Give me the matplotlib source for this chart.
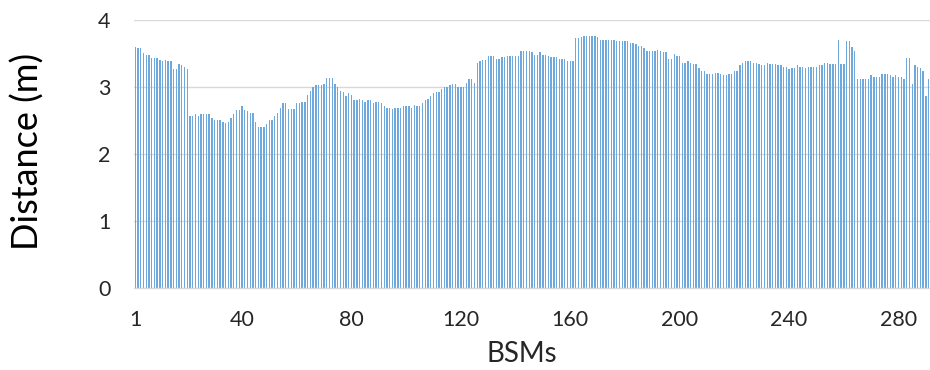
import matplotlib
matplotlib.use("Agg")
import matplotlib.pyplot as plt
import numpy as np

# Per-message distance readings, in order of BSM index (1..291)
distance_m = [
    3.59, 3.57, 3.57, 3.50, 3.48, 3.48, 3.43, 3.43, 3.43, 3.40,
    3.38, 3.40, 3.38, 3.38, 3.27, 3.27, 3.34, 3.32, 3.29, 3.27,
    2.57, 2.57, 2.59, 2.57, 2.59, 2.59, 2.59, 2.59, 2.54, 2.50,
    2.50, 2.50, 2.48, 2.46, 2.48,
    2.54, 2.59, 2.66, 2.66, 2.71, 2.66, 2.64, 2.61, 2.61, 2.48,
    2.40, 2.40, 2.40, 2.45, 2.50, 2.50, 2.57, 2.61, 2.69, 2.75,
    2.75, 2.67, 2.67, 2.67, 2.75, 2.75, 2.77, 2.77, 2.88, 2.94,
    3.00, 3.02, 3.02, 3.02, 3.04,
    3.13, 3.13, 3.13, 3.04, 2.99, 2.94, 2.92, 2.86, 2.90, 2.88,
    2.80, 2.80, 2.82, 2.80, 2.77, 2.80, 2.80, 2.75, 2.77, 2.77,
    2.75, 2.71, 2.69, 2.69, 2.67, 2.69, 2.69, 2.69, 2.71, 2.71,
    2.71, 2.69, 2.73, 2.71,
    2.71, 2.75, 2.80, 2.82, 2.86, 2.90, 2.92, 2.92, 2.96, 3.00,
    3.00, 3.02, 3.04, 3.04, 3.00, 3.00, 3.00, 3.06, 3.11, 3.11,
    3.06, 3.36, 3.38, 3.40, 3.40, 3.46, 3.46, 3.46, 3.42, 3.42,
    3.44, 3.44, 3.46, 3.46, 3.46,
    3.46, 3.46, 3.53, 3.53, 3.53, 3.53, 3.51, 3.48, 3.48, 3.51,
    3.48, 3.48, 3.46, 3.44, 3.44, 3.44, 3.42, 3.42, 3.42, 3.38,
    3.38, 3.38,
    3.72, 3.72, 3.74, 3.76, 3.76, 3.76, 3.76, 3.76, 3.74, 3.70,
    3.70,
    3.70, 3.70, 3.69, 3.70, 3.68, 3.68, 3.68, 3.68, 3.68, 3.65,
    3.65, 3.63, 3.61, 3.61, 3.57, 3.53, 3.53, 3.53, 3.53, 3.55,
    3.53, 3.51, 3.51, 3.42, 3.42, 3.49, 3.46, 3.46, 3.36, 3.36,
    3.38, 3.36, 3.34, 3.34, 3.28, 3.23, 3.23,
    3.19, 3.19, 3.19, 3.21, 3.21, 3.19, 3.17, 3.17, 3.19, 3.19,
    3.23, 3.23, 3.32, 3.36, 3.38, 3.38, 3.38, 3.36, 3.36, 3.34,
    3.32, 3.32, 3.36, 3.34, 3.34, 3.34, 3.32, 3.32, 3.30, 3.30,
    3.26, 3.28, 3.28, 3.32,
    3.30, 3.30, 3.28, 3.30, 3.30, 3.30, 3.30, 3.32, 3.32, 3.36,
    3.36, 3.34, 3.34, 3.34, 3.70, 3.34, 3.34, 3.68, 3.68, 3.59,
    3.53, 3.11,
    3.11, 3.11, 3.11, 3.11, 3.17, 3.15, 3.15, 3.15, 3.19, 3.19,
    3.19, 3.17, 3.15, 3.17, 3.15, 3.15, 3.11, 3.43, 3.43, 3.04,
    3.32, 3.30, 3.28, 3.23, 2.86, 3.11,
]
bsm_index = np.arange(1, len(distance_m) + 1)

x_tick_labels = [1, 40, 80, 120, 160, 200, 240, 280]
y_ticks = [0, 1, 2, 3, 4]

plt.rcParams["font.family"] = ["Lato", "DejaVu Sans"]

fig = plt.figure(figsize=(9.3, 3.7), dpi=100)
ax = fig.add_axes([0.144, 0.2216, 0.856, 0.7254])

ax.bar(bsm_index, distance_m, width=0.5, color="#6FA8DC", linewidth=0, zorder=2)

ax.set_xlim(0.5, len(distance_m) + 0.5)
ax.set_ylim(0, 4)
ax.set_yticks(y_ticks)
ax.set_xticks(x_tick_labels)
ax.set_xticklabels([str(v) for v in x_tick_labels])

ax.yaxis.grid(True, color="#D9D9D9", linewidth=1.0, zorder=0)
ax.xaxis.grid(False)
for side in ("top", "right", "left"):
    ax.spines[side].set_visible(False)
ax.spines["bottom"].set_color("#D9D9D9")
ax.spines["bottom"].set_linewidth(1.0)

ax.tick_params(axis="both", length=0, labelsize=15.5, colors="#262626")
ax.tick_params(axis="x", pad=16)
ax.tick_params(axis="y", pad=17)

ax.set_xlabel("BSMs", fontsize=20, color="#262626")
ax.xaxis.set_label_coords(0.487, -0.245)
ax.xaxis.label.set_verticalalignment("center")
ax.set_ylabel("Distance (m)", fontsize=26, color="#000000")
ax.yaxis.set_label_coords(-0.133, 0.508)
ax.yaxis.label.set_verticalalignment("center")

fig.savefig("out.png", dpi=100)
